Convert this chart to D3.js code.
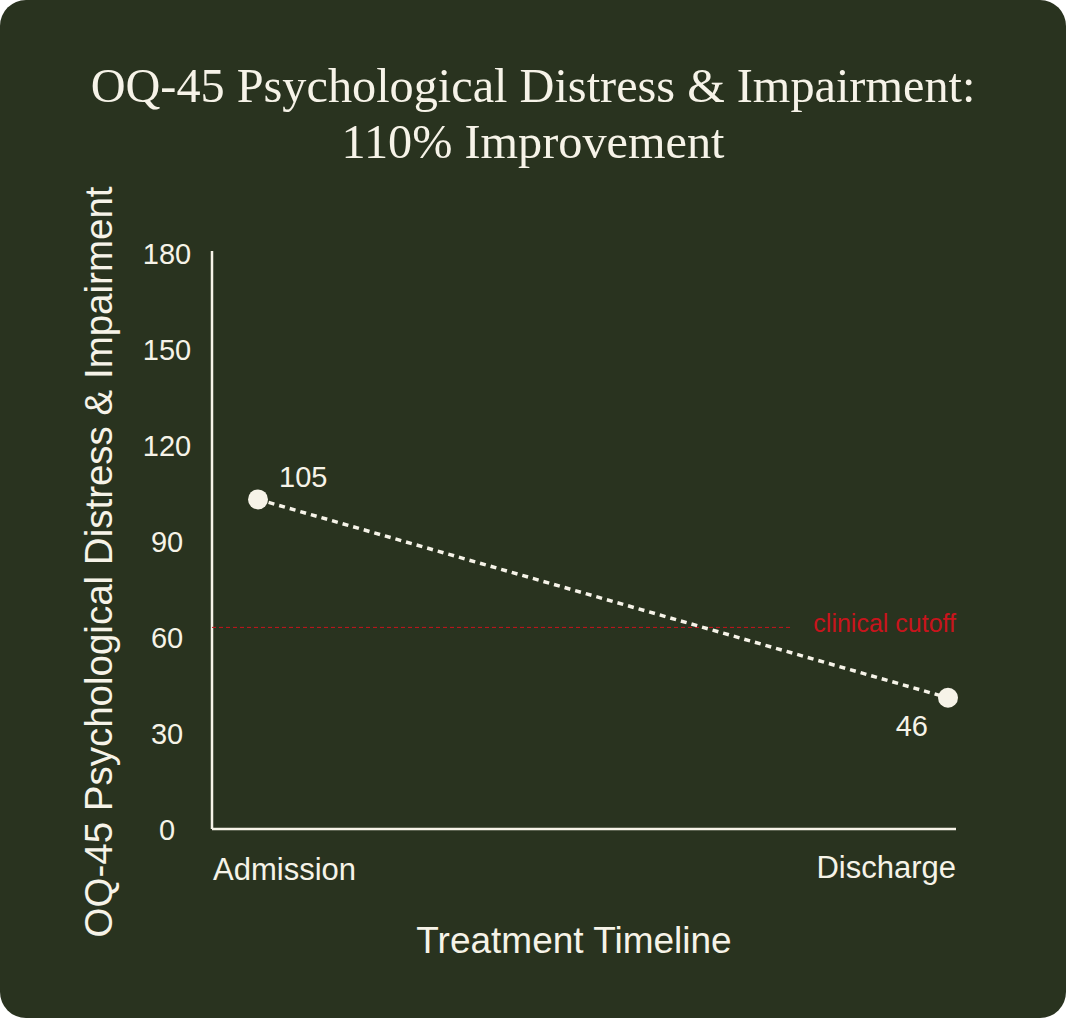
<!DOCTYPE html>
<html>
<head>
<meta charset="utf-8">
<script src="https://cdn.jsdelivr.net/npm/d3@7"></script>
<style>
  html, body { margin: 0; padding: 0; background: #ffffff; }
  svg { display: block; }
</style>
</head>
<body>
<svg></svg>
<script>
const stages = ["Admission", "Discharge"];
const scores = [103, 41];
const scoreLabels = ["105", "46"];
const yTicks = [0, 30, 60, 90, 120, 150, 180];
const cutoff = 63;
const cutoffLabel = "clinical cutoff";
const titleLines = ["OQ-45 Psychological Distress & Impairment:", "110% Improvement"];
const yLabel = "OQ-45 Psychological Distress & Impairment";
const xLabel = "Treatment Timeline";

const W = 1066, H = 1018;
const bg = "#29331f";
const cream = "#f6f3e8";
const red = "#c8141c";
const sans = "'Liberation Sans', Arial, sans-serif";

const svg = d3.select("svg")
    .attr("width", W)
    .attr("height", H);

svg.append("rect")
    .attr("width", W)
    .attr("height", H)
    .attr("rx", 26)
    .attr("fill", bg);

const margin = { top: 253, left: 212, right: 110, bottom: 189 };
const width = W - margin.left - margin.right;
const height = H - margin.top - margin.bottom;

const g = svg.append("g")
    .attr("transform", `translate(${margin.left},${margin.top})`);

const y = d3.scaleLinear().domain([0, 180]).range([height, 0]);
const x = d3.scalePoint().domain(stages).range([46, 736]);

// title
const title = svg.append("text")
    .attr("text-anchor", "middle")
    .attr("fill", cream)
    .style("font-family", "'Liberation Serif', 'DejaVu Serif', serif")
    .style("font-size", "46px");
title.selectAll("tspan")
    .data(titleLines)
    .enter()
    .append("tspan")
    .attr("x", 533)
    .attr("y", (d, i) => 102 + i * 56)
    .text(d => d);
// fit first line to reference width
const firstLen = title.select("tspan").node().getComputedTextLength();
title.style("font-size", (46 * 885 / firstLen) + "px");

// y axis
const yAxis = g.append("g")
    .call(d3.axisLeft(y).tickValues(yTicks).tickSize(0).tickSizeOuter(0));
yAxis.select(".domain").attr("stroke", cream).attr("stroke-width", 2.5).attr("d", `M0,${height}V-2`);
yAxis.selectAll("text")
    .attr("x", -45)
    .attr("dy", "0.36em")
    .attr("text-anchor", "middle")
    .attr("fill", cream)
    .style("font-family", sans)
    .style("font-size", "29px");

// x axis line
g.append("line")
    .attr("x1", 0).attr("x2", width)
    .attr("y1", height).attr("y2", height)
    .attr("stroke", cream)
    .attr("stroke-width", 2.5);

g.selectAll(".stage")
    .data(stages)
    .enter()
    .append("text")
    .attr("class", "stage")
    .attr("x", (d, i) => i === 0 ? 1 : width)
    .attr("y", (d, i) => height + (i === 0 ? 51 : 49))
    .attr("text-anchor", (d, i) => i === 0 ? "start" : "end")
    .attr("fill", cream)
    .style("font-family", sans)
    .style("font-size", "31px")
    .text(d => d);

// clinical cutoff
g.append("line")
    .attr("x1", 0).attr("x2", 580)
    .attr("y1", y(cutoff)).attr("y2", y(cutoff))
    .attr("stroke", red)
    .attr("stroke-width", 1)
    .attr("stroke-dasharray", "4,3");
g.append("text")
    .attr("x", width)
    .attr("y", y(cutoff) + 5)
    .attr("text-anchor", "end")
    .attr("fill", red)
    .style("font-family", sans)
    .style("font-size", "25px")
    .text(cutoffLabel);

// line + points
const pts = stages.map((s, i) => ({ stage: s, value: scores[i], label: scoreLabels[i] }));
g.append("path")
    .datum(pts)
    .attr("fill", "none")
    .attr("stroke", cream)
    .attr("stroke-width", 3.5)
    .attr("stroke-dasharray", "6,5")
    .attr("d", d3.line().x(d => x(d.stage)).y(d => y(d.value)));

g.selectAll(".pt")
    .data(pts)
    .enter()
    .append("circle")
    .attr("class", "pt")
    .attr("cx", d => x(d.stage))
    .attr("cy", d => y(d.value))
    .attr("r", 10)
    .attr("fill", cream);

g.selectAll(".val")
    .data(pts)
    .enter()
    .append("text")
    .attr("class", "val")
    .attr("x", (d, i) => x(d.stage) + (i === 0 ? 21 : -20))
    .attr("y", (d, i) => y(d.value) + (i === 0 ? -12 : 38))
    .attr("text-anchor", (d, i) => i === 0 ? "start" : "end")
    .attr("fill", cream)
    .style("font-family", sans)
    .style("font-size", "29px")
    .text(d => d.label);

// axis titles
svg.append("text")
    .attr("transform", "translate(112,562) rotate(-90)")
    .attr("text-anchor", "middle")
    .attr("fill", cream)
    .style("font-family", sans)
    .style("font-size", "38.5px")
    .text(yLabel);

svg.append("text")
    .attr("x", 574)
    .attr("y", 953)
    .attr("text-anchor", "middle")
    .attr("fill", cream)
    .style("font-family", sans)
    .style("font-size", "37px")
    .text(xLabel);
</script>
</body>
</html>
